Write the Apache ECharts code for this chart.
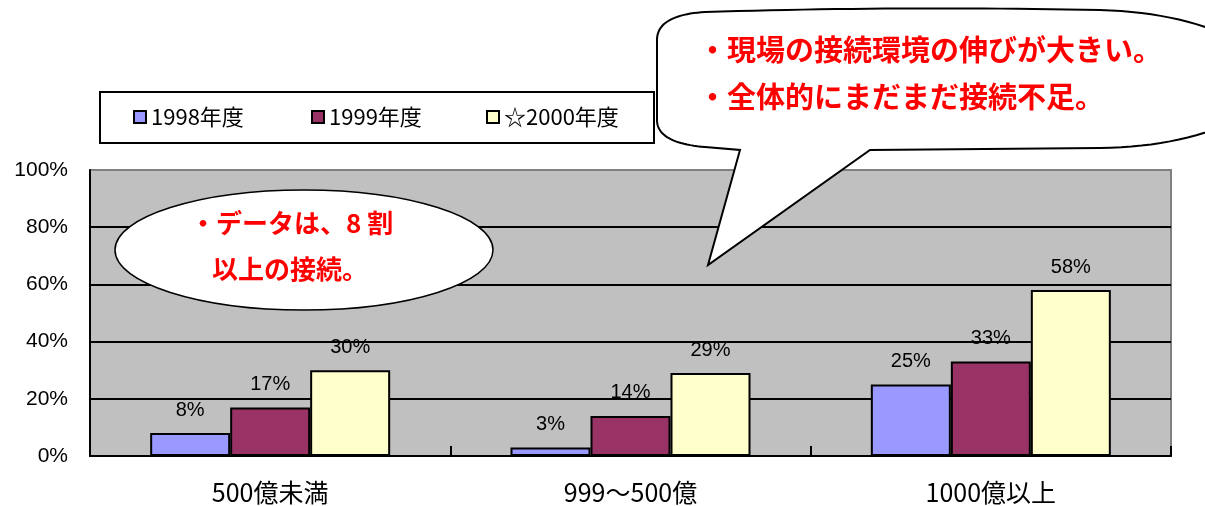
<!DOCTYPE html>
<html>
<head>
<meta charset="utf-8">
<script src="https://cdn.jsdelivr.net/npm/echarts@6/dist/echarts.min.js"></script>
<style>
  html, body { margin: 0; padding: 0; background: #ffffff; }
  #chart { width: 1205px; height: 506px; }
</style>
</head>
<body>
<div id="chart"></div>
<script>
// Categories (company size by sales) and connection rates per fiscal year (%)
const categories = ['500億未満', '999～500億', '1000億以上'];
const seriesNames = ['1998年度', '1999年度', '☆2000年度'];
const values1998 = [8, 3, 25];
const values1999 = [17, 14, 33];
const values2000 = [30, 29, 58];
const yTicks = [0, 20, 40, 60, 80, 100];

// Callout texts
const noteLeft = ['・データは、8 割', '以上の接続。'];
const noteRight = ['・現場の接続環境の伸びが大きい。', '・全体的にまだまだ接続不足。'];

const barColors = ['#9999ff', '#993366', '#ffffcc'];
const FONT = '"Noto Sans CJK JP", "Noto Sans", sans-serif';
const NUMFONT = '"Liberation Sans", Arial, sans-serif';

// Outline of the speech balloon: a list of segments, each either a straight
// line to a point or a quadratic curve (control point, end point).
function balloonOutline() {
  const segs = [
    ['M', 657, 40],
    ['Q', 657, 15, 705, 12],
    ['Q', 900, 6, 1100, 10],
    ['Q', 1230, 14, 1290, 80],
    ['Q', 1230, 146, 1100, 148],
    ['L', 870, 150],
    ['L', 708, 265],
    ['L', 740, 150],
    ['L', 705, 147],
    ['Q', 657, 143, 657, 120]
  ];
  const pts = [];
  let cx = 0, cy = 0;
  segs.forEach(s => {
    if (s[0] === 'M' || s[0] === 'L') {
      cx = s[1]; cy = s[2];
      pts.push([cx, cy]);
    } else {
      const [, qx, qy, ex, ey] = s;
      for (let k = 1; k <= 24; k++) {
        const t = k / 24, u = 1 - t;
        pts.push([u * u * cx + 2 * u * t * qx + t * t * ex,
                  u * u * cy + 2 * u * t * qy + t * t * ey]);
      }
      cx = ex; cy = ey;
    }
  });
  return pts;
}

const chart = echarts.init(document.getElementById('chart'), null, { renderer: 'canvas' });

const allValues = [values1998, values1999, values2000];

const series = allValues.map((vals, i) => ({
  name: seriesNames[i],
  type: 'bar',
  data: vals,
  barWidth: 80,
  barGap: '0%',
  itemStyle: { color: barColors[i], borderColor: '#000', borderWidth: 2 },
  label: {
    show: true,
    position: 'top',
    distance: 13,
    formatter: '{c}%',
    fontFamily: NUMFONT,
    fontSize: 20,
    color: '#000'
  },
  emphasis: { disabled: true },
  z: 3
}));

// one legend component per entry so each sits at its own place in the box
const legendLefts = [133, 311, 486];
const legends = seriesNames.map((n, i) => ({
  data: [n],
  left: legendLefts[i],
  top: 106,
  padding: 0,
  itemWidth: 12,
  itemHeight: 12,
  itemGap: 0,
  icon: 'rect',
  itemStyle: { borderColor: '#000', borderWidth: 2 },
  textStyle: { fontFamily: FONT, fontSize: 22, color: '#000' },
  selectedMode: false
}));

const option = {
  animation: false,
  backgroundColor: '#ffffff',
  legend: legends,
  grid: {
    left: 90, right: 34, top: 170, bottom: 50,
    show: true,
    backgroundColor: '#c0c0c0',
    borderColor: '#808080',
    borderWidth: 2,
    containLabel: false
  },
  xAxis: {
    type: 'category',
    data: categories,
    axisLine: { lineStyle: { color: '#000', width: 2 } },
    axisTick: { show: true, inside: true, length: 10, lineStyle: { color: '#000', width: 2 } },
    axisLabel: { fontFamily: FONT, fontSize: 25, color: '#000', margin: 24 },
    splitLine: { show: false }
  },
  yAxis: {
    type: 'value',
    min: yTicks[0],
    max: yTicks[yTicks.length - 1],
    interval: 20,
    axisLine: { show: true, lineStyle: { color: '#000', width: 2 } },
    axisTick: { show: false },
    axisLabel: { formatter: '{value}%', fontFamily: NUMFONT, fontSize: 21, color: '#000', margin: 22 },
    splitLine: {
      show: true,
      lineStyle: { color: ['#000', '#000', '#000', '#000', '#000', '#808080'], width: 2 }
    }
  },
  series: series,
  graphic: [
    // legend frame
    {
      type: 'rect',
      shape: { x: 100, y: 92, width: 554, height: 51 },
      style: { fill: 'none', stroke: '#000', lineWidth: 2 },
      z: 10
    },
    // oval note over the left group
    {
      type: 'ellipse',
      shape: { cx: 304, cy: 250, rx: 189, ry: 60 },
      style: { fill: '#ffffff', stroke: '#000', lineWidth: 1.5 },
      z: 20
    },
    {
      type: 'text',
      x: 190, y: 210,
      style: { text: noteLeft[0], fill: '#ff0000', font: 'bold 26px ' + FONT },
      z: 21
    },
    {
      type: 'text',
      x: 212, y: 256,
      style: { text: noteLeft[1], fill: '#ff0000', font: 'bold 26px ' + FONT },
      z: 21
    },
    // speech balloon at the upper right
    {
      type: 'polygon',
      shape: { points: balloonOutline() },
      style: { fill: '#ffffff', stroke: '#000', lineWidth: 2 },
      z: 20
    },
    {
      type: 'text',
      x: 698, y: 35,
      style: { text: noteRight[0], fill: '#ff0000', font: 'bold 29px ' + FONT },
      z: 21
    },
    {
      type: 'text',
      x: 698, y: 82,
      style: { text: noteRight[1], fill: '#ff0000', font: 'bold 29px ' + FONT },
      z: 21
    }
  ]
};

chart.setOption(option);
</script>
</body>
</html>
